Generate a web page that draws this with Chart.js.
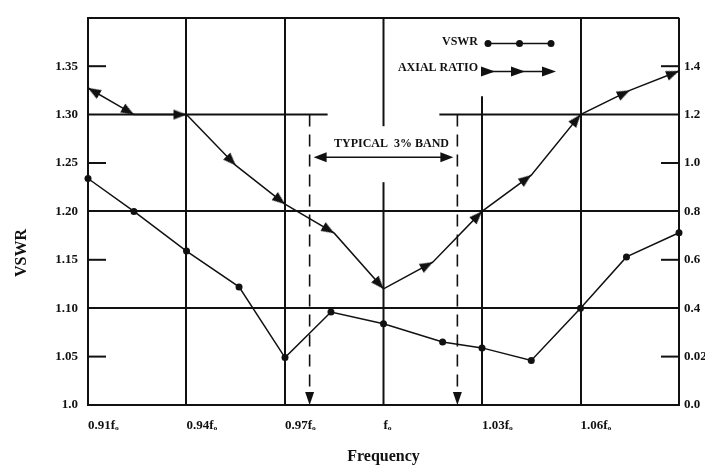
<!DOCTYPE html>
<html>
<head>
<meta charset="utf-8">
<script src="https://cdn.jsdelivr.net/npm/chart.js@4.4.1/dist/chart.umd.min.js"></script>
<style>
    html, body { margin: 0; padding: 0; background: #fff; }
</style>
</head>
<body>
<canvas id="vswr_chart" width="705" height="466"></canvas>
<script>
// values
var vswrFreq = [0.91, 0.924, 0.94, 0.956, 0.97, 0.984, 1.00, 1.018, 1.03, 1.045, 1.06, 1.074, 1.09];
var vswrValues = [1.234, 1.200, 1.159, 1.122, 1.049, 1.096, 1.084, 1.065, 1.059, 1.046, 1.100, 1.153, 1.178];
var axialFreq = [0.91, 0.924, 0.94, 0.955, 0.97, 0.985, 1.00, 1.015, 1.03, 1.045, 1.06, 1.075, 1.09];
var axialValues = [1.31, 1.20, 1.20, 0.99, 0.83, 0.71, 0.48, 0.59, 0.80, 0.95, 1.20, 1.30, 1.38];
var freqTicks = ['0.91fₒ', '0.94fₒ', '0.97fₒ', 'fₒ', '1.03fₒ', '1.06fₒ', ''];
var vswrTicks = ['1.0', '1.05', '1.10', '1.15', '1.20', '1.25', '1.30', '1.35', ''];
var axialTicks = ['0.0', '0.02', '0.4', '0.6', '0.8', '1.0', '1.2', '1.4', ''];
var bandEdges = [0.9775, 1.0225];

var ink = '#111';
var serif = "'Liberation Serif', 'Times New Roman', serif";
var tickFont = { family: serif, size: 13, weight: 'bold' };

function arrowHead(len, half) {
    var s = Math.ceil(len * 2 + 2);
    var c = document.createElement('canvas');
    c.width = s; c.height = s;
    var g = c.getContext('2d');
    g.fillStyle = ink;
    g.beginPath();
    g.moveTo(s / 2, s / 2);
    g.lineTo(s / 2 + half, s / 2 + len);
    g.lineTo(s / 2 - half, s / 2 + len);
    g.closePath();
    g.fill();
    return c;
}
var arrowImg = arrowHead(13, 5);

function seg(ctx, x1, y1, x2, y2) {
    ctx.beginPath();
    ctx.moveTo(x1, y1);
    ctx.lineTo(x2, y2);
    ctx.stroke();
}
function tri(ctx, x, y, ang, len, half) {
    ctx.save();
    ctx.translate(x, y);
    ctx.rotate(ang);
    ctx.beginPath();
    ctx.moveTo(0, 0);
    ctx.lineTo(-len, -half);
    ctx.lineTo(-len, half);
    ctx.closePath();
    ctx.fill();
    ctx.restore();
}

var decor = {
    id: 'decor',
    beforeDatasetsDraw: function (chart) {
        var ctx = chart.ctx, a = chart.chartArea, x = chart.scales.x, y = chart.scales.y;
        var bandL = x.getPixelForValue(bandEdges[0]), bandR = x.getPixelForValue(bandEdges[1]);
        var y130 = y.getPixelForValue(1.30);
        var arrowY = y.getPixelForValue(1.256);
        var xf = x.getPixelForValue(1.00), x103 = x.getPixelForValue(1.03);
        ctx.save();
        ctx.strokeStyle = ink;
        ctx.fillStyle = ink;
        ctx.lineWidth = 2;
        // broken grid lines
        seg(ctx, a.left, y130, bandL + 18, y130);
        seg(ctx, bandR - 18, y130, a.right, y130);
        seg(ctx, xf, a.top, xf, arrowY - 31);
        seg(ctx, xf, arrowY + 25, xf, a.bottom);
        seg(ctx, x103, y.getPixelForValue(1.319), x103, a.bottom);
        // short inner ticks
        [1.05, 1.15, 1.25, 1.35].forEach(function (v) {
            var py = y.getPixelForValue(v);
            seg(ctx, a.left, py, a.left + 18, py);
            seg(ctx, a.right - 18, py, a.right, py);
        });
        // band markers
        ctx.lineWidth = 1.6;
        ctx.setLineDash([12, 8]);
        seg(ctx, bandL, y130, bandL, a.bottom - 12);
        seg(ctx, bandR, y130, bandR, a.bottom - 12);
        ctx.setLineDash([]);
        tri(ctx, bandL, a.bottom, Math.PI / 2, 13, 4.5);
        tri(ctx, bandR, a.bottom, Math.PI / 2, 13, 4.5);
        seg(ctx, bandL + 10, arrowY, bandR - 10, arrowY);
        tri(ctx, bandL + 4, arrowY, Math.PI, 13, 5);
        tri(ctx, bandR - 4, arrowY, 0, 13, 5);
        ctx.font = 'bold 12px ' + serif;
        ctx.textAlign = 'center';
        ctx.textBaseline = 'middle';
        ctx.fillText('TYPICAL  3% BAND', (bandL + bandR) / 2 + 8, arrowY - 13);
        ctx.restore();
    },
    afterDraw: function (chart) {
        var ctx = chart.ctx;
        ctx.save();
        ctx.fillStyle = ink;
        ctx.strokeStyle = ink;
        // legend
        ctx.font = 'bold 12px ' + serif;
        ctx.textAlign = 'right';
        ctx.textBaseline = 'middle';
        ctx.fillText('VSWR', 478, 42);
        ctx.fillText('AXIAL RATIO', 478, 68);
        ctx.lineWidth = 1.5;
        seg(ctx, 488, 43.5, 551, 43.5);
        [488, 519.5, 551].forEach(function (px) {
            ctx.beginPath();
            ctx.arc(px, 43.5, 3.5, 0, Math.PI * 2);
            ctx.fill();
        });
        seg(ctx, 482, 71.5, 550, 71.5);
        [495, 525, 556].forEach(function (px) {
            tri(ctx, px, 71.5, 0, 14, 5);
        });
        // left axis title
        ctx.font = 'bold 16px ' + serif;
        ctx.textAlign = 'center';
        ctx.translate(22, 253);
        ctx.rotate(-Math.PI / 2);
        ctx.fillText('VSWR', 0, 0);
        ctx.restore();
    }
};

function gridColor(keep) {
    return function (c) {
        return keep.indexOf(c.index) >= 0 ? ink : 'rgba(0,0,0,0)';
    };
}

new Chart(document.getElementById('vswr_chart').getContext('2d'), {
    type: 'line',
    data: {
        datasets: [{
            label: 'VSWR',
            data: vswrFreq.map(function (f, i) { return { x: f, y: vswrValues[i] }; }),
            yAxisID: 'y',
            borderColor: ink,
            borderWidth: 1.5,
            pointRadius: 3.5,
            pointBackgroundColor: ink,
            pointBorderWidth: 0,
            tension: 0,
            clip: false
        }, {
            label: 'AXIAL RATIO',
            data: axialFreq.map(function (f, i) { return { x: f, y: axialValues[i] }; }),
            yAxisID: 'y1',
            borderColor: ink,
            borderWidth: 1.5,
            pointStyle: arrowImg,
            pointRotation: function (c) {
                var i = c.dataIndex;
                var xs = c.chart.scales.x, ys = c.chart.scales.y1;
                var from = i === 0 ? 1 : i - 1, to = i;
                var dx = xs.getPixelForValue(axialFreq[to]) - xs.getPixelForValue(axialFreq[from]);
                var dy = ys.getPixelForValue(axialValues[to]) - ys.getPixelForValue(axialValues[from]);
                return Math.atan2(dy, dx) * 180 / Math.PI + 90;
            },
            tension: 0,
            clip: false
        }]
    },
    options: {
        responsive: false,
        animation: false,
        events: [],
        layout: { padding: { top: 11, left: 0, right: 0, bottom: 0 } },
        plugins: { legend: { display: false }, tooltip: { enabled: false } },
        scales: {
            x: {
                type: 'linear',
                min: 0.91,
                max: 1.09,
                ticks: {
                    stepSize: 0.03,
                    autoSkip: false,
                    maxRotation: 0,
                    align: 'start',
                    padding: 13,
                    color: ink,
                    font: tickFont,
                    callback: function (v, i) { return freqTicks[i]; }
                },
                grid: { drawTicks: false, lineWidth: 2, color: gridColor([1, 2, 5, 6]) },
                border: { color: ink, width: 2 },
                title: {
                    display: true,
                    text: 'Frequency',
                    color: ink,
                    font: { family: serif, size: 16, weight: 'bold', lineHeight: 1 },
                    padding: { top: 0, bottom: 1 }
                },
                afterFit: function (s) { s.height = 61; }
            },
            y: {
                position: 'left',
                min: 1.0,
                max: 1.4,
                ticks: {
                    stepSize: 0.05,
                    autoSkip: false,
                    padding: 10,
                    color: ink,
                    font: tickFont,
                    callback: function (v, i) { return vswrTicks[i]; }
                },
                grid: { drawTicks: false, lineWidth: 2, color: gridColor([2, 4, 8]) },
                border: { color: ink, width: 2 },
                afterFit: function (s) { s.width = 88; }
            },
            y1: {
                position: 'right',
                min: 0,
                max: 1.6,
                ticks: {
                    stepSize: 0.2,
                    autoSkip: false,
                    padding: 5,
                    color: ink,
                    font: tickFont,
                    callback: function (v, i) { return axialTicks[i]; }
                },
                grid: { display: false, drawTicks: false },
                border: { display: false },
                afterFit: function (s) { s.width = 26; }
            }
        }
    },
    plugins: [decor]
});
</script>
</body>
</html>
